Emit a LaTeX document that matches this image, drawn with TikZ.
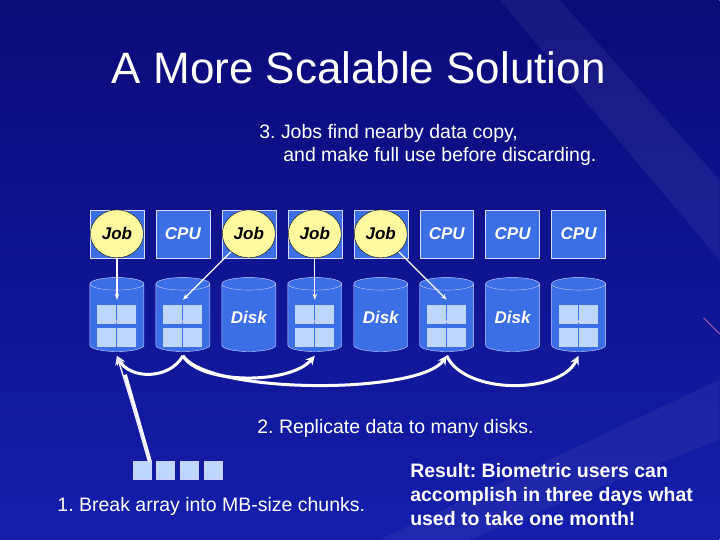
\documentclass[tikz,border=0pt]{standalone}
\usepackage{fontspec}
\setmainfont{Liberation Sans}
\frenchspacing
\usetikzlibrary{shapes.geometric,arrows.meta}
\definecolor{bgdark}{RGB}{10,10,120}
\definecolor{bglight}{RGB}{20,30,170}
\definecolor{boxblue}{RGB}{60,110,230}
\definecolor{diskblue}{RGB}{60,110,230}
\definecolor{disktop}{RGB}{110,150,240}
\definecolor{chunk}{RGB}{190,215,250}
\definecolor{jobyellow}{RGB}{255,250,160}
\tikzset{
 cpubox/.style={draw=white!85!blue,fill=boxblue,minimum width=54pt,minimum height=48pt,inner sep=0pt,text=white,font=\fontsize{17}{17}\selectfont\bfseries\itshape},
 jobnode/.style={ellipse,draw=black,fill=jobyellow,minimum width=53pt,minimum height=48pt,inner sep=0pt,font=\fontsize{17}{17}\selectfont\bfseries\itshape},
 disknode/.style={cylinder,shape border rotate=90,aspect=0.35,draw=white!80!blue,fill=diskblue,cylinder uses custom fill,cylinder body fill=diskblue,cylinder end fill=disktop,minimum width=54pt,minimum height=74pt,inner sep=0pt,text=white,font=\fontsize{17}{17}\selectfont\bfseries\itshape},
 chunkbox/.style={fill=chunk,minimum size=19pt,inner sep=0pt},
 rowchunk/.style={fill=chunk,draw=white!80!blue,minimum size=18pt,inner sep=0pt},
 thin arrow/.style={draw=white,line width=1.2pt,-{Stealth[length=6pt]}},
 thick arrow/.style={draw=white,line width=3pt,-{Stealth[length=9pt,width=9pt]}},
 label/.style={text=white,font=\fontsize{19.5}{23}\selectfont},
}
\begin{document}
\begin{tikzpicture}[x=1pt,y=-1pt]
\shade[top color=bgdark,bottom color=bglight] (0,0) rectangle (720,540);
\fill[white,opacity=0.06] (560,0) -- (720,180) -- (720,260) -- (500,0) -- cycle;
\fill[white,opacity=0.05] (380,540) -- (720,380) -- (720,440) -- (470,540) -- cycle;
\draw[violet!60!white,line width=1pt] (704,318) -- (720,334);
\useasboundingbox (0,0) rectangle (720,540);
\node[text=white,font=\fontsize{44}{44}\selectfont] (title) at (359,68) {A More Scalable Solution};
\node[label,align=left,anchor=north west] (l3) at (256,121) {3. Jobs find nearby data copy,\\\hspace{24pt}and make full use before discarding.};
\foreach \i/\x/\t in {1/117/,2/183/CPU,3/249/,4/315/,5/381/,6/447/CPU,7/513/CPU,8/579/CPU}{
 \node[cpubox] (c\i) at (\x,234) {\t};
 \node[disknode] (d\i) at (\x,318) {Disk};
}
\foreach \i/\x in {1/117,3/249,4/315,5/381}{
 \node[jobnode] (j\i) at (\x,234) {Job};
}
\foreach \i/\x in {1/117,2/183,4/315,6/447,8/579}{
 \node[chunkbox] (q\i a) at (\x-10,315) {};
 \node[chunkbox] (q\i b) at (\x+10,315) {};
 \node[chunkbox] (q\i c) at (\x-10,338) {};
 \node[chunkbox] (q\i d) at (\x+10,338) {};
}
\coordinate (t1) at (117,300); \coordinate (t2) at (183,300);
\coordinate (t4) at (315,300); \coordinate (t6) at (447,300);
\draw[thin arrow] (j1) -- (t1);
\draw[thin arrow] (j3) -- (t2);
\draw[thin arrow] (j4) -- (t4);
\draw[thin arrow] (j5) -- (t6);
\coordinate (b1) at (117,356); \coordinate (b2) at (183,356);
\coordinate (b4) at (315,356); \coordinate (b6) at (447,356);
\coordinate (b8) at (579,356);
\draw[thick arrow] (b2) .. controls (170,380) and (130,380) .. (b1);
\draw[thick arrow] (b2) .. controls (200,385) and (290,385) .. (b4);
\draw[thick arrow] (b2) .. controls (210,395) and (420,395) .. (b6);
\draw[thick arrow] (b6) .. controls (465,395) and (560,395) .. (b8);
\node[label,anchor=west] (l2) at (254,429) {2. Replicate data to many disks.};
\foreach \k/\x in {1/142,2/165,3/189,4/213}{
 \node[rowchunk] (r\k) at (\x,471) {};
}
\coordinate (rstart) at (150,462);
\draw[draw=white,line width=4pt] (rstart) -- (125,375);
\draw[draw=white!90!blue,line width=1.5pt,-{Stealth[length=9pt,width=9pt]}] (rstart) -- (b1);
\node[label,anchor=west] (l1) at (54,507) {1. Break array into MB-size chunks.};
\node[text=white,font=\fontsize{19.5}{24}\selectfont\bfseries,align=left,anchor=west] (res) at (407,495) {Result: Biometric users can\\accomplish in three days what\\used to take one month!};
\end{tikzpicture}
\end{document}
